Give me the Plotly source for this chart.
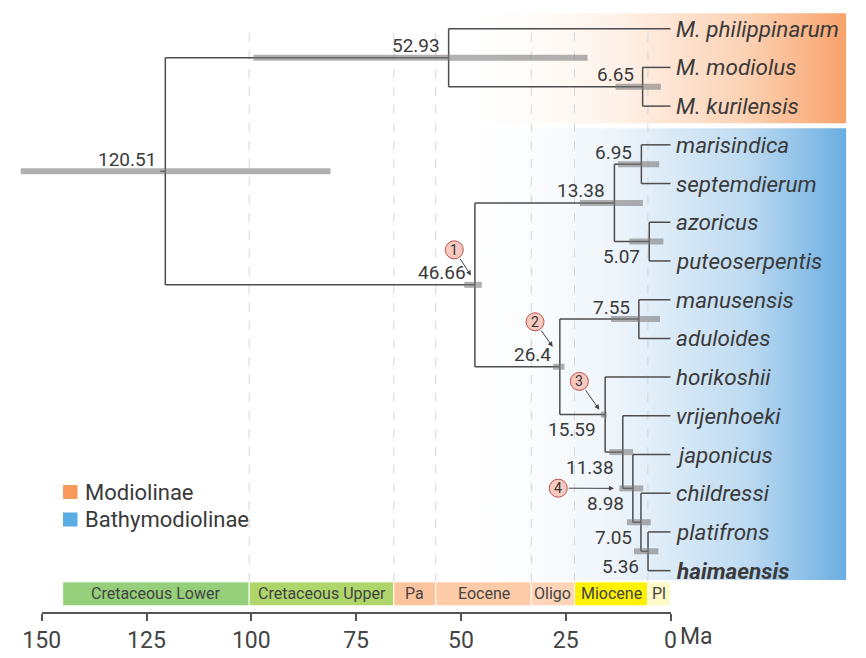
import plotly.graph_objects as go

# ---------------- data ----------------
taxa = ["M. philippinarum", "M. modiolus", "M. kurilensis", "marisindica", "septemdierum",
        "azoricus", "puteoserpentis", "manusensis", "aduloides", "horikoshii",
        "vrijenhoeki", "japonicus", "childressi", "platifrons", "haimaensis"]
bold_taxa = ["haimaensis"]

node_ids = ["root", "modio", "modio2", "bathy", "c1", "c1a", "c1b",
            "c2", "c2a", "c3", "c4", "c5", "c6", "c7"]
node_ages = [120.51, 52.93, 6.65, 46.66, 13.38, 6.95, 5.07,
             26.4, 7.55, 15.59, 11.38, 8.98, 7.05, 5.36]
node_children = [["modio", "bathy"], ["M. philippinarum", "modio2"], ["M. modiolus", "M. kurilensis"],
                 ["c1", "c2"], ["c1a", "c1b"], ["marisindica", "septemdierum"],
                 ["azoricus", "puteoserpentis"], ["c2a", "c3"], ["manusensis", "aduloides"],
                 ["horikoshii", "c4"], ["vrijenhoeki", "c5"], ["japonicus", "c6"],
                 ["childressi", "c7"], ["platifrons", "haimaensis"]]
hpd_old = [155.0, 99.5, 13.1, 49.2, 21.6, 12.5, 9.8, 28.0, 14.2, 16.6, 14.6, 12.2, 10.4, 8.7]
hpd_young = [81.1, 19.8, 2.3, 45.0, 6.6, 2.7, 1.7, 25.3, 2.5, 15.2, 8.9, 6.5, 4.7, 2.9]
label_side = ["above", "above", "above", "above", "above", "above", "below",
              "above", "above", "below", "below", "below", "below", "below"]

callout_numbers = ["1", "2", "3", "4"]
callout_nodes = ["bathy", "c2", "c3", "c5"]

clades = ["Modiolinae", "Bathymodiolinae"]
clade_first_tip = ["M. philippinarum", "marisindica"]
clade_last_tip = ["M. kurilensis", "haimaensis"]

periods = ["Cretaceous Lower", "Cretaceous Upper", "Pa", "Eocene", "Oligo", "Miocene", "Pl"]
period_start = [145, 100.5, 66, 56, 33.2, 22.9, 5.4]
period_end = [100.5, 66, 56, 33.2, 22.9, 5.4, 0]
gridline_ages = [100.5, 66, 56, 33.2, 22.9, 5.4]

axis_ticks = [150, 125, 100, 75, 50, 25, 0]
axis_unit = "Ma"

# ---------------- styles ----------------
W, H = 866, 658
FONT = "Roboto"
TXT = "#3a3a3a"
LINE = "#4d4d4d"
# pixel mapping of main axes
X0_PX, PX_PER_MA = 670.5, 4.192
Y0_PX, PX_PER_TIP = 28.7, 38.71
x_range = [X0_PX / PX_PER_MA, (X0_PX - W) / PX_PER_MA]
y_range = [(H - Y0_PX) / PX_PER_TIP, -Y0_PX / PX_PER_TIP]

period_colors = ["#95CF79", "#AED66B", "#FCC49C", "#FDCBA7", "#FDD4B8", "#FFF200", "#FFF9C8"]
clade_gradients = [
    [[0, "rgba(255,255,255,0)"], [0.45, "#FEF0E6"], [0.75, "#FCD2B4"], [1, "#F8A26C"]],
    [[0, "rgba(255,255,255,0)"], [0.45, "#EBF3FA"], [0.75, "#BFDBF1"], [1, "#6BAEE1"]],
]
legend_colors = ["#F7995A", "#5AADE4"]
box_left_age, box_right_age = 54.0, -41.9
box_pad_top = [0.40, 0.43]
box_pad_bottom = [0.44, 0.24]
period_y = [14.29, 14.91]
grid_top = 0.11

label_offset = {"above": 12, "below": -15}
callout_circle = [(-20.6, -35.0), (-24.8, -45.0), (-25.8, -33.2), (-74.6, -0.2)]
callout_tip = [(-3.9, -9.3), (-7.1, -20.0), (-5.8, -4.9), (-18.9, 0.0)]

# ---------------- tree layout ----------------
pos_y = {t: i for i, t in enumerate(taxa)}
age = {t: 0.0 for t in taxa}
children = dict(zip(node_ids, node_children))
for n, a in zip(node_ids, node_ages):
    age[n] = a


def ycoord(n):
    if n in pos_y:
        return pos_y[n]
    v = sum(ycoord(c) for c in children[n]) / len(children[n])
    pos_y[n] = v
    return v


ycoord("root")

fig = go.Figure()

# clade background gradients
for i, clade in enumerate(clades):
    y0 = pos_y[clade_first_tip[i]] - box_pad_top[i]
    y1 = pos_y[clade_last_tip[i]] + box_pad_bottom[i]
    fig.add_trace(go.Scatter(
        x=[box_left_age, box_right_age, box_right_age, box_left_age, box_left_age],
        y=[y0, y0, y1, y1, y0], mode="lines", line=dict(width=0), fill="toself",
        fillgradient=dict(type="horizontal", colorscale=clade_gradients[i],
                          start=box_left_age, stop=box_right_age),
        hoverinfo="skip", showlegend=False))

# dashed period gridlines
gx, gy = [], []
for g in gridline_ages:
    gx += [g, g, None]
    gy += [grid_top, period_y[0], None]
fig.add_trace(go.Scatter(x=gx, y=gy, mode="lines",
                         line=dict(color="#d6d6d6", width=1, dash="dash"),
                         hoverinfo="skip", showlegend=False))

# tree branches
bx, by = [], []
for n in node_ids:
    ys = [pos_y[c] for c in children[n]]
    bx += [age[n], age[n], None]
    by += [min(ys), max(ys), None]
    for c in children[n]:
        bx += [age[n], age[c], None]
        by += [pos_y[c], pos_y[c], None]
bx += [age["root"] + 1.2, age["root"], None]
by += [pos_y["root"], pos_y["root"], None]
fig.add_trace(go.Scatter(x=bx, y=by, mode="lines", line=dict(color=LINE, width=1.5),
                         hoverinfo="skip", showlegend=False))

# HPD bars
hx, hy = [], []
for n, lo, hi in zip(node_ids, hpd_old, hpd_young):
    hx += [lo, hi, None]
    hy += [pos_y[n], pos_y[n], None]
fig.add_trace(go.Scatter(x=hx, y=hy, mode="lines",
                         line=dict(color="rgba(120,120,120,0.58)", width=6),
                         hoverinfo="skip", showlegend=False))

annotations = []
shapes = []
# node age labels
for n, side in zip(node_ids, label_side):
    annotations.append(dict(x=age[n], y=pos_y[n], xref="x", yref="y", text=f"{age[n]:g}",
                            showarrow=False, xanchor="right", yanchor="middle",
                            xshift=-7, yshift=label_offset[side],
                            font=dict(family=FONT, size=19, color=TXT)))
# tip labels
for t in taxa:
    txt = f"<b>{t}</b>" if t in bold_taxa else t
    annotations.append(dict(x=0, y=pos_y[t], xref="x", yref="y", text=f"<i>{txt}</i>",
                            showarrow=False, xanchor="left", yanchor="middle", xshift=3,
                            font=dict(family=FONT, size=22.5, color=TXT)))

# callouts
R = 9
for num, n, (cx, cy), (tx, ty) in zip(callout_numbers, callout_nodes, callout_circle, callout_tip):
    dx, dy = tx - cx, ty - cy
    ln = (dx * dx + dy * dy) ** 0.5
    sx, sy = cx + R * dx / ln, cy + R * dy / ln
    annotations.append(dict(x=age[n], y=pos_y[n], xref="x", yref="y", text="",
                            xshift=tx, yshift=-ty, showarrow=True,
                            ax=sx - tx, ay=sy - ty, axref="pixel", ayref="pixel",
                            arrowhead=2, arrowsize=1, arrowwidth=1, arrowcolor="#444"))
    shapes.append(dict(type="circle", xref="x", yref="y", xsizemode="pixel", ysizemode="pixel",
                       xanchor=age[n], yanchor=pos_y[n],
                       x0=cx - R, x1=cx + R, y0=-cy - R, y1=-cy + R,
                       fillcolor="#F8C9C0", line=dict(color="#C0504D", width=1), layer="above"))
    annotations.append(dict(x=age[n], y=pos_y[n], xref="x", yref="y", text=num,
                            xshift=cx, yshift=-cy, showarrow=False,
                            font=dict(family=FONT, size=14, color="#333")))

# geological periods
for p, s, e, c in zip(periods, period_start, period_end, period_colors):
    shapes.append(dict(type="rect", xref="x", yref="y", x0=s, x1=e, y0=period_y[0], y1=period_y[1],
                       fillcolor=c, line=dict(color="white", width=1), layer="above"))
    annotations.append(dict(x=(s + e) / 2, y=sum(period_y) / 2, xref="x", yref="y", text=p,
                            showarrow=False, font=dict(family=FONT, size=16, color="#444")))

# legend
for i, (clade, col) in enumerate(zip(clades, legend_colors)):
    cy = 492 + 27.5 * i
    shapes.append(dict(type="rect", xref="paper", yref="paper",
                       x0=63 / W, x1=77.5 / W, y0=1 - (cy + 7) / H, y1=1 - (cy - 7) / H,
                       fillcolor=col, line=dict(width=0)))
    annotations.append(dict(x=83 / W, y=1 - cy / H, xref="paper", yref="paper", text=clade,
                            showarrow=False, xanchor="left", yanchor="middle",
                            font=dict(family=FONT, size=22, color=TXT)))

# axis unit
annotations.append(dict(x=0, y=1 - 636 / H, xref="x2", yref="paper", text=axis_unit,
                        showarrow=False, xanchor="left", yanchor="middle", xshift=7,
                        font=dict(family=FONT, size=23, color="#444")))

# invisible trace for the time axis
fig.add_trace(go.Scatter(x=[axis_ticks[0], axis_ticks[-1]], y=[0, 0], xaxis="x2", yaxis="y",
                         mode="markers", marker=dict(opacity=0), hoverinfo="skip",
                         showlegend=False))

fig.update_layout(
    template="none",
    width=W, height=H, margin=dict(l=0, r=0, t=0, b=0, pad=0),
    paper_bgcolor="white", plot_bgcolor="rgba(0,0,0,0)",
    xaxis=dict(range=x_range, visible=False, domain=[0, 1], automargin=False),
    yaxis=dict(range=y_range, visible=False, domain=[0, 1], automargin=False),
    xaxis2=dict(range=[axis_ticks[0], axis_ticks[-1]], domain=[41.7 / W, X0_PX / W],
                anchor="free", position=1 - 612.5 / H, showline=True, linecolor="#555",
                linewidth=2, ticks="outside", ticklen=7, tickwidth=2, tickcolor="#555",
                tickvals=axis_ticks, showgrid=False, zeroline=False, automargin=False,
                tickfont=dict(family=FONT, size=23, color="#444")),
    shapes=shapes, annotations=annotations, showlegend=False,
)

fig.write_html("out.html", config={"displayModeBar": False},
               post_script="document.body.style.margin='0px';document.body.style.overflow='hidden';")
